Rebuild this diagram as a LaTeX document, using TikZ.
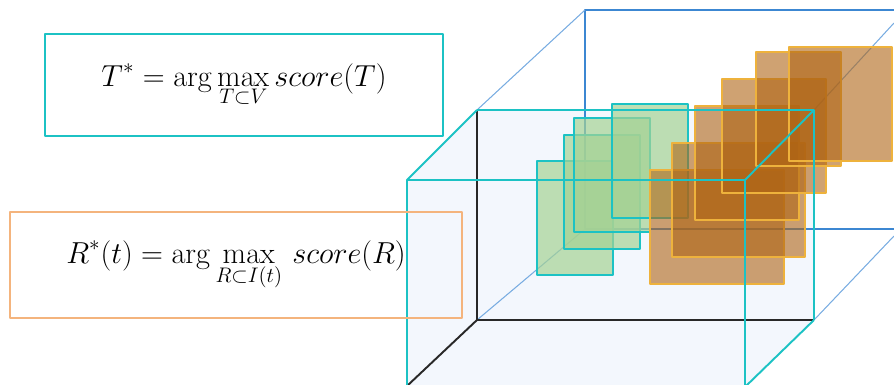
\documentclass[tikz,border=0pt]{standalone}
\usepackage{tikz}

\definecolor{cubecyan}{RGB}{28,194,196}
\definecolor{facefill}{RGB}{243,247,253}
\definecolor{backblue}{RGB}{60,135,210}
\definecolor{diagblue}{RGB}{120,172,225}
\definecolor{edgeblack}{RGB}{40,40,40}
\definecolor{framegreen}{RGB}{165,210,148}
\definecolor{framegold}{RGB}{238,178,60}
\definecolor{framebrown}{RGB}{175,100,20}
\definecolor{boxorange}{RGB}{244,180,125}

\DeclareMathSizes{16.5}{16.5}{13}{10}

\begin{document}
\begin{tikzpicture}[x=0.02cm, y=-0.02cm, line join=round,
    formulabox/.style={draw, line width=1.1pt, inner sep=0pt, font=\fontsize{16.5}{19}\selectfont},
    greenframe/.style={draw=cubecyan, line width=1.1pt, fill=framegreen, fill opacity=0.7},
    orangeframe/.style={draw=framegold, line width=1.1pt, fill=framebrown, fill opacity=0.6},
    cubeedge/.style={cubecyan, line width=1.1pt},
    hiddenedge/.style={edgeblack, line width=1.1pt},
    backedge/.style={backblue, line width=0.7pt},
    backdiag/.style={diagblue, line width=0.6pt}]

    % --- 1. canvas ---
    \useasboundingbox (0,0) rectangle (894,385);

    % --- 2. cube faces and back box ---
    \fill[facefill] (407,386) -- (407,180) -- (477,110) -- (814,110) -- (814,320) -- (746,386) -- cycle;

    \draw[backedge] (894,10) -- (585,10) -- (585,229) -- (894,229); % back face
    \draw[backdiag] (477,110) -- (585,10);
    \draw[backdiag] (477,320) -- (585,229);
    \draw[backdiag] (814,110) -- (894,23);
    \draw[backdiag] (814,320) -- (894,236);

    % --- 3. stacked frames ---
    \foreach \x/\y in {537/161, 564/135, 574/118, 612/104}
        \draw[greenframe] (\x,\y) rectangle ++(76,114);
    \foreach \x/\y/\w in {650/170/134, 672/143/133, 695/106/104, 722/79/104, 756/52/85, 789/47/103}
        \draw[orangeframe] (\x,\y) rectangle ++(\w,114);

    % --- 4. cube edges ---
    \draw[hiddenedge] (477,110) -- (477,320) -- (814,320);
    \draw[hiddenedge] (477,320) -- (407,386);
    \draw[cubeedge] (477,110) -- (814,110) -- (814,320);
    \draw[cubeedge] (407,386) -- (407,180) -- (745,180) -- (745,386);
    \draw[cubeedge] (407,180) -- (477,110);
    \draw[cubeedge] (745,180) -- (814,110);
    \draw[cubeedge] (814,320) -- (746,386);

    % --- 5. formulas ---
    \node[formulabox, draw=cubecyan, minimum width=7.96cm, minimum height=2.04cm] (tubebox) at (244,85)
        {$\displaystyle T^* = \arg\max_{T\subset V} score(T)$};
    \node[formulabox, draw=boxorange, minimum width=9.04cm, minimum height=2.12cm] (regionbox) at (236,265)
        {$\displaystyle R^*(t) = \arg\max_{R\subset I(t)}\, score(R)$};

\end{tikzpicture}
\end{document}
